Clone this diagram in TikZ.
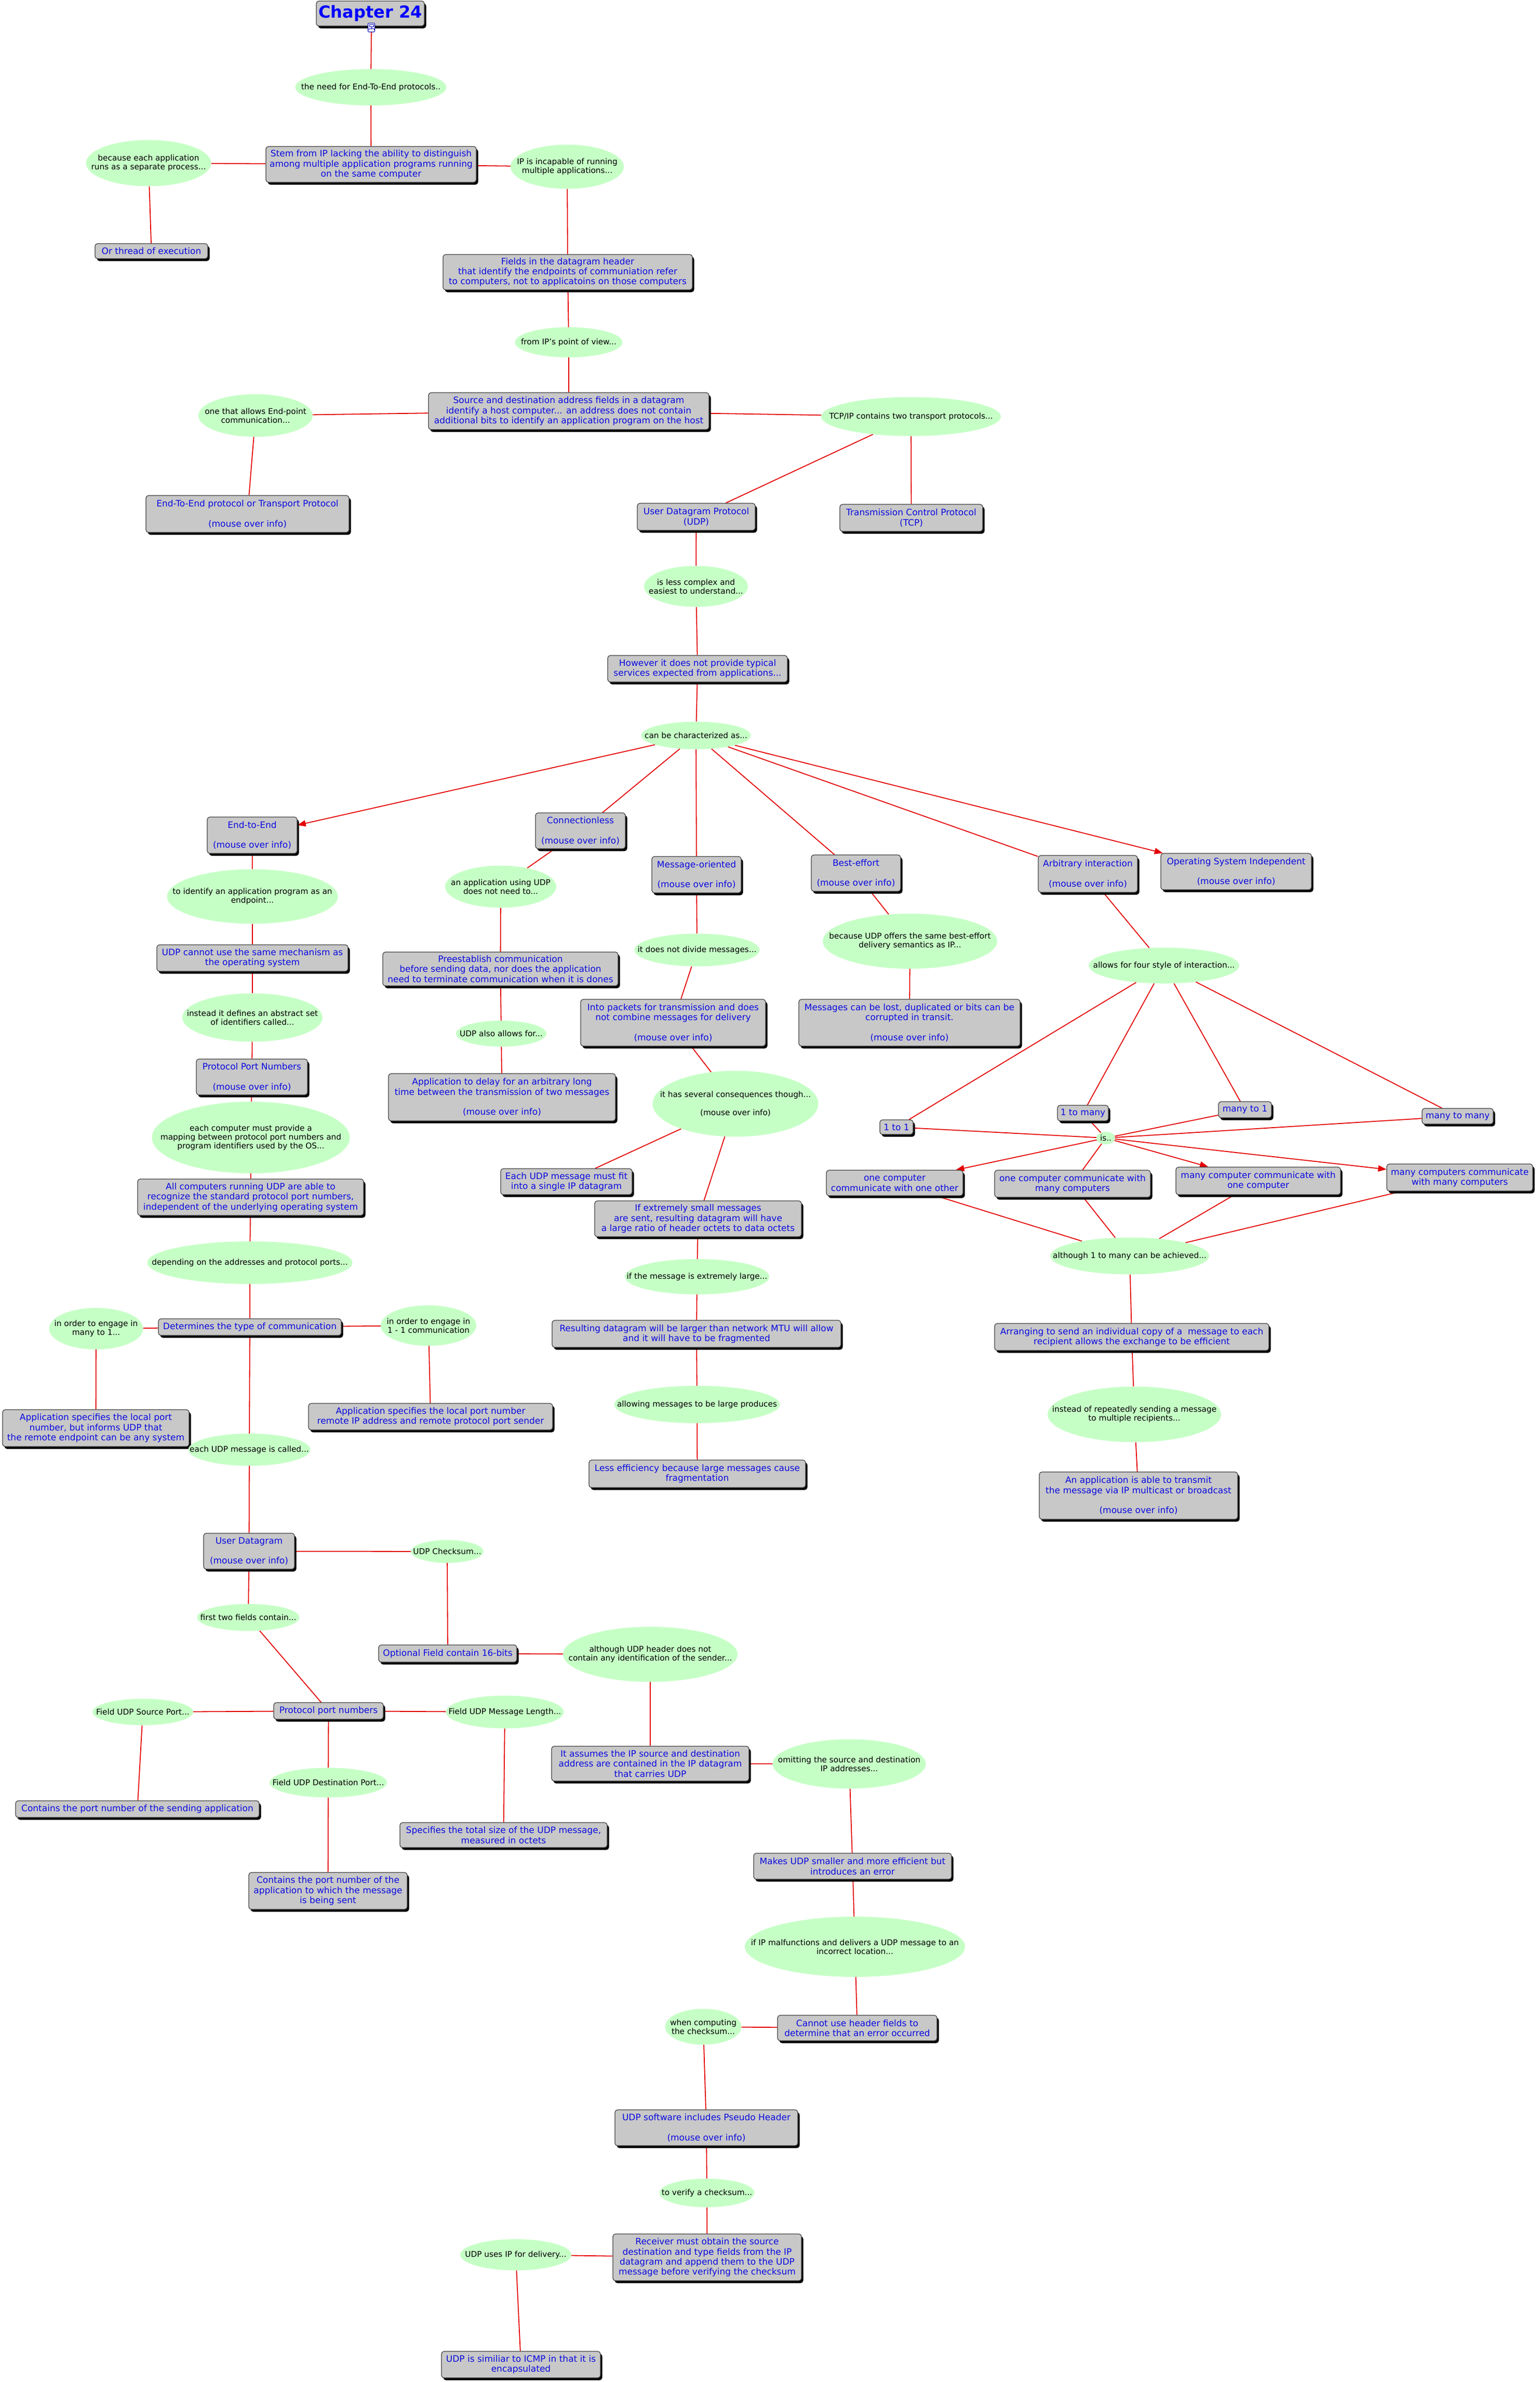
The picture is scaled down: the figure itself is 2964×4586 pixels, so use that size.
\documentclass[tikz,border=0pt]{standalone}
\usepackage{fontspec}
\setmainfont{DejaVu Sans}
\usetikzlibrary{shapes.geometric,shadows,arrows.meta}
\definecolor{boxgray}{RGB}{200,200,200}
\definecolor{boxline}{RGB}{60,60,60}
\definecolor{boxblue}{RGB}{10,10,225}
\definecolor{bubgreen}{RGB}{198,255,198}
\definecolor{linkred}{RGB}{228,0,0}
\newcommand\bxf{\fontsize{17}{19.3}\selectfont}
\newcommand\btf{\fontsize{15.3}{17.2}\selectfont}
\newcommand\Bx[6]{\node[box,minimum width={(#4-4)*1pt},minimum height={(#5-4)*1pt}] (#1) at ({#2-2},{#3-2}) {}; \node[bxtxt] (#1-t) at (#1.center) {#6};}
\newcommand\Bub[6]{\node[bub,minimum width=#4pt,minimum height=#5pt] (#1) at (#2,#3) {}; \node[bubtxt] (#1-t) at (#1.center) {#6};}
\pgfdeclarelayer{bg}
\pgfsetlayers{bg,main}
\tikzset{
  box/.style={draw=boxline, line width=1.2pt, fill=boxgray, rounded corners=5pt, inner sep=0pt,
    drop shadow={shadow xshift=3.5pt, shadow yshift=-4.5pt, fill=black, opacity=1}},
  bxtxt/.style={text=boxblue, font=\bxf, align=center, inner sep=0pt},
  bub/.style={ellipse, fill=bubgreen, inner sep=0pt},
  bubtxt/.style={text=black, font=\btf, align=center, inner sep=0pt},
  link/.style={draw=linkred, line width=1.8pt},
  arr/.style={link, -{Triangle[length=16pt,width=12pt]}},
}
\begin{document}
\begin{tikzpicture}[x=1pt,y=-1pt]
\useasboundingbox (0,0) rectangle (2964,4586);
% title
\node[box, minimum width=208pt, minimum height=48pt, text=blue, font=\fontsize{32}{36}\selectfont\bfseries] (title) at (713,26) {Chapter 24};
\node[draw=blue!70!black, fill=white, line width=1pt, rounded corners=2pt, minimum width=13pt, minimum height=17pt, inner sep=0pt] (icon) at (715,53) {};
\draw[blue!70!black, line width=0.8pt] (711,47) rectangle (719,51) (715,51) -- (715,55) (710,55) -- (720,55) (710,55) -- (710,58) (720,55) -- (720,58);

% boxes
\Bx{stem}{716.5}{318.5}{409}{73}{Stem from IP lacking the ability to distinguish\\among multiple application programs running\\on the same computer}
\Bx{thread}{293.5}{485.5}{221}{33}{Or thread of execution}
\Bx{fields}{1095}{526}{484}{72}{Fields in the datagram header\\that identify the endpoints of communiation refer\\to computers, not to applicatoins on those computers}
\Bx{source}{1097}{793.5}{544}{75}{Source and destination address fields in a datagram\\identify a host computer... an address does not contain\\additional bits to identify an application program on the host}
\Bx{e2eproto}{478.5}{991.5}{395}{75}{End-To-End protocol or Transport Protocol\\[19.3pt](mouse over info)}
\Bx{udp}{1342.5}{997}{231}{56}{User Datagram Protocol\\(UDP)}
\Bx{tcp}{1756.5}{999}{279}{56}{Transmission Control Protocol\\(TCP)}
\Bx{however}{1345}{1289.5}{350}{55}{However it does not provide typical\\services expected from applications...}
\Bx{e2e}{487.5}{1610}{177}{74}{End-to-End\\[19.3pt](mouse over info)}
\Bx{connless}{1119.5}{1601.5}{177}{73}{Connectionless\\[19.3pt](mouse over info)}
\Bx{msgor}{1343}{1686}{176}{74}{Message-oriented\\[19.3pt](mouse over info)}
\Bx{besteff}{1650}{1683}{176}{74}{Best-effort\\[19.3pt](mouse over info)}
\Bx{arbit}{2096.5}{1684.5}{195}{75}{Arbitrary interaction\\[19.3pt](mouse over info)}
\Bx{osind}{2382}{1680}{294}{74}{Operating System Independent\\[19.3pt](mouse over info)}
\Bx{udpcannot}{488}{1846.5}{372}{55}{UDP cannot use the same mechanism as\\the operating system}
\Bx{preest}{965.5}{1867.5}{457}{69}{Preestablish communication\\before sending data, nor does the application\\need to terminate communication when it is dones}
\Bx{ppn}{487}{2075.5}{218}{73}{Protocol Port Numbers\\[19.3pt](mouse over info)}
\Bx{appdelay}{968.5}{2114.5}{441}{95}{Application to delay for an arbitrary long\\time between the transmission of two messages\\[19.3pt](mouse over info)}
\Bx{allcomp}{484.5}{2307}{439}{74}{All computers running UDP are able to\\recognize the standard protocol port numbers,\\independent of the underlying operating system}
\Bx{intopk}{1298}{1971}{360}{94}{Into packets for transmission and does\\not combine messages for delivery\\[19.3pt](mouse over info)}
\Bx{lost}{1753}{1971}{430}{94}{Messages can be lost, duplicated or bits can be\\corrupted in transit.\\[19.3pt](mouse over info)}
\Bx{fit}{1092.5}{2277}{257}{54}{Each UDP message must fit\\into a single IP datagram}
\Bx{small}{1346}{2348.5}{402}{73}{If extremely small messages\\are sent, resulting datagram will have\\a large ratio of header octets to data octets}
\Bx{resulting}{1343}{2570}{560}{56}{Resulting datagram will be larger than network MTU will allow\\and it will have to be fragmented}
\Bx{lesseff}{1344.5}{2839.5}{421}{57}{Less efficiency because large messages cause\\fragmentation}
\Bx{one1}{1728}{2172}{68}{32}{1 to 1}
\Bx{onemany}{2087}{2145}{102}{34}{1 to many}
\Bx{manyone}{2399}{2138.5}{106}{35}{many to 1}
\Bx{manymany}{2808.5}{2151}{141}{34}{many to many}
\Bx{rA}{1724.5}{2279.5}{267}{53}{one computer\\communicate with one other}
\Bx{rB}{2067}{2281}{304}{56}{one computer communicate with\\many computers}
\Bx{rC}{2424.5}{2275.5}{321}{57}{many computer communicate with\\one computer}
\Bx{rD}{2812.5}{2269}{285}{56}{many computers communicate\\with many computers}
\Bx{arranging}{2181}{2576}{532}{56}{Arranging to send an individual copy of a\ \ message to each\\recipient allows the exchange to be efficient}
\Bx{appable}{2194}{2881.5}{386}{95}{An application is able to transmit\\the message via IP multicast or broadcast\\[19.3pt](mouse over info)}
\Bx{determines}{483}{2557}{356}{36}{Determines the type of communication}
\Bx{appany}{186.5}{2751.5}{363}{75}{Application specifies the local port\\number, but informs UDP that\\the remote endpoint can be any system}
\Bx{appremote}{831}{2729.5}{474}{55}{Application specifies the local port number\\remote IP address and remote protocol port sender}
\Bx{userdg}{481.5}{2988.5}{179}{73}{User Datagram\\[19.3pt](mouse over info)}
\Bx{optional}{864}{3185.5}{270}{37}{Optional Field contain 16-bits}
\Bx{ppnb}{634.5}{3296}{215}{36}{Protocol port numbers}
\Bx{srcapp}{266.5}{3485}{473}{36}{Contains the port number of the sending application}
\Bx{totsize}{971.5}{3535}{403}{52}{Specifies the total size of the UDP message,\\measured in octets}
\Bx{dstapp}{633.5}{3642.5}{309}{75}{Contains the port number of the\\application to which the message\\is being sent}
\Bx{assumes}{1254}{3397.5}{384}{71}{It assumes the IP source and destination\\address are contained in the IP datagram\\that carries UDP}
\Bx{makes}{1643.5}{3595}{385}{54}{Makes UDP smaller and more efficient but\\introduces an error}
\Bx{cannot}{1652.5}{3906.5}{311}{53}{Cannot use header fields to\\determine that an error occurred}
\Bx{pseudo}{1362}{4098.5}{356}{73}{UDP software includes Pseudo Header\\[19.3pt](mouse over info)}
\Bx{receiver}{1363.5}{4348}{367}{94}{Receiver must obtain the source\\destination and type fields from the IP\\datagram and append them to the UDP\\message before verifying the checksum}
\Bx{similiar}{1005}{4554.5}{310}{55}{UDP is similiar to ICMP in that it is\\encapsulated}

% bubbles
\Bub{need}{714}{168}{291}{70}{the need for End-To-End protocols..}
\Bub{because}{286}{314}{241}{89}{because each application\\runs as a separate process...}
\Bub{incapable}{1092}{321}{218}{85}{IP is incapable of running\\multiple applications...}
\Bub{fromip}{1095}{659}{207}{58}{from IP's point of view...}
\Bub{allows}{492}{800}{220}{82}{one that allows End-point\\communication...}
\Bub{tcpip}{1754}{802}{346}{75}{TCP/IP contains two transport protocols...}
\Bub{lesscx}{1340}{1129}{200}{79}{is less complex and\\easiest to understand...}
\Bub{charact}{1340}{1416}{211}{53}{can be characterized as...}
\Bub{identify}{486}{1726}{329}{105}{to identify an application program as an\\endpoint...}
\Bub{noneed}{964}{1707}{214}{81}{an application using UDP\\does not need to...}
\Bub{instead}{486}{1959}{270}{93}{instead it defines an abstract set\\of identifiers called...}
\Bub{alsoallows}{965}{1990}{174}{50}{UDP also allows for...}
\Bub{eachcomp}{483}{2190}{381}{138}{each computer must provide a\\mapping between protocol port numbers and\\program identifiers used by the OS...}
\Bub{notdivide}{1342}{1829}{241}{63}{it does not divide messages...}
\Bub{bestsem}{1752}{1812}{336}{106}{because UDP offers the same best-effort\\delivery semantics as IP...}
\Bub{fourstyle}{2241}{1859}{290}{69}{allows for four style of interaction...}
\Bub{conseq}{1416}{2125}{319}{127}{it has several consequences though...\\[17.2pt](mouse over info)}
\Bub{is}{2129}{2191}{36}{24}{is..}
\Bub{although}{2175}{2418}{306}{71}{although 1 to many can be achieved...}
\Bub{repeatedly}{2184}{2723}{334}{107}{instead of repeatedly sending a message\\to multiple recipients...}
\Bub{extlarge}{1342}{2458}{278}{68}{if the message is extremely large...}
\Bub{allowlarge}{1342}{2704}{319}{72}{allowing messages to be large produces}
\Bub{depending}{481}{2431}{395}{82}{depending on the addresses and protocol ports...}
\Bub{manyto}{185}{2558}{181}{80}{in order to engage in\\many to 1...}
\Bub{oneone}{825}{2552}{184}{78}{in order to engage in\\1 - 1 communication}
\Bub{called}{480}{2791}{235}{62}{each UDP message is called...}
\Bub{checksum}{861}{2987}{140}{44}{UDP Checksum...}
\Bub{firsttwo}{478}{3114}{197}{52}{first two fields contain...}
\Bub{noident}{1252}{3185}{336}{106}{although UDP header does not\\contain any identification of the sender...}
\Bub{srcport}{275}{3296}{194}{51}{Field UDP Source Port...}
\Bub{msglen}{972}{3296}{227}{63}{Field UDP Message Length...}
\Bub{dstport}{632}{3432}{226}{57}{Field UDP Destination Port...}
\Bub{omitting}{1635}{3396}{295}{95}{omitting the source and destination\\IP addresses...}
\Bub{malfunc}{1646}{3748}{424}{116}{if IP malfunctions and delivers a UDP message to an\\incorrect location...}
\Bub{computing}{1354}{3902}{147}{69}{when computing\\the checksum...}
\Bub{verify}{1361}{4222}{183}{55}{to verify a checksum...}
\Bub{usesip}{993}{4341}{214}{60}{UDP uses IP for delivery...}

\begin{pgfonlayer}{bg}
\fill[white] (0,0) rectangle (2964,4586);
\foreach \a/\b in {icon/need, need/stem, stem/because, because/thread, stem/incapable, incapable/fields,
  fields/fromip, fromip/source, source/allows, allows/e2eproto, source/tcpip, tcpip/udp, tcpip/tcp,
  udp/lesscx, lesscx/however, however/charact, charact/connless, charact/msgor, charact/besteff, charact/arbit,
  e2e/identify, identify/udpcannot, udpcannot/instead, instead/ppn, ppn/eachcomp, eachcomp/allcomp,
  allcomp/depending, depending/determines, determines/manyto, manyto/appany, determines/oneone, oneone/appremote,
  determines/called, called/userdg, userdg/checksum, checksum/optional, optional/noident, noident/assumes,
  assumes/omitting, omitting/makes, makes/malfunc, malfunc/cannot, cannot/computing, computing/pseudo,
  pseudo/verify, verify/receiver, receiver/usesip, usesip/similiar,
  userdg/firsttwo, firsttwo/ppnb, ppnb/srcport, ppnb/msglen, ppnb/dstport, srcport/srcapp, msglen/totsize, dstport/dstapp,
  connless/noneed, noneed/preest, preest/alsoallows, alsoallows/appdelay,
  msgor/notdivide, notdivide/intopk, intopk/conseq, conseq/fit, conseq/small, small/extlarge, extlarge/resulting,
  resulting/allowlarge, allowlarge/lesseff, besteff/bestsem, bestsem/lost,
  arbit/fourstyle, fourstyle/one1, fourstyle/onemany, fourstyle/manyone, fourstyle/manymany,
  is/one1, is/onemany, is/manyone, is/manymany, is/rB,
  rA/although, rB/although, rC/although, rD/although, although/arranging, arranging/repeatedly, repeatedly/appable}
  {\draw[link] (\a) -- (\b);}
\draw[arr] (charact) -- (e2e);
\draw[arr] (charact) -- (osind);
\draw[arr] (is) -- (rA);
\draw[arr] (is) -- (rC);
\draw[arr] (is) -- (rD);
\end{pgfonlayer}
\end{tikzpicture}
\end{document}
